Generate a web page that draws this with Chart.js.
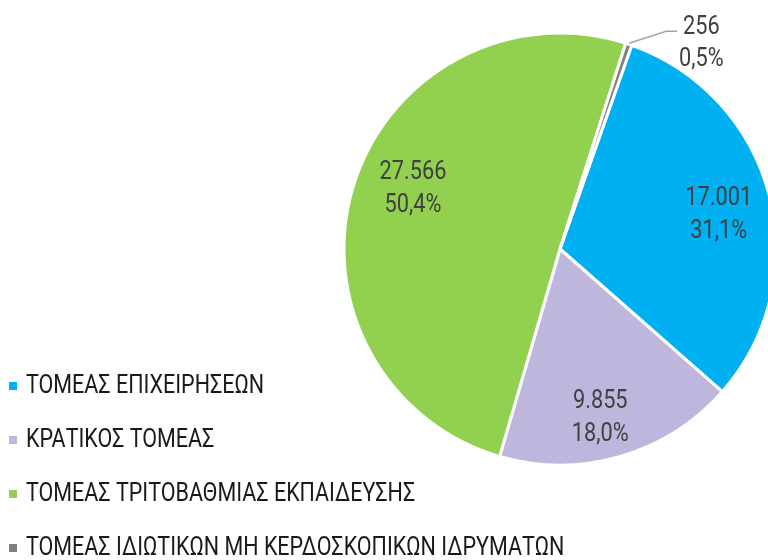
<!DOCTYPE html>
<html>
<head>
<meta charset="utf-8">
<script src="https://cdn.jsdelivr.net/npm/chart.js@4"></script>
<style>
  html, body { margin: 0; padding: 0; background: #ffffff; overflow: hidden; }
  #wrap { width: 768px; height: 560px; position: relative; }
</style>
</head>
<body>
<div id="wrap"><canvas id="c" width="768" height="560"></canvas></div>
<script>
const categories = [
  'ΤΟΜΕΑΣ ΕΠΙΧΕΙΡΗΣΕΩΝ',
  'ΚΡΑΤΙΚΟΣ ΤΟΜΕΑΣ',
  'ΤΟΜΕΑΣ ΤΡΙΤΟΒΑΘΜΙΑΣ ΕΚΠΑΙΔΕΥΣΗΣ',
  'ΤΟΜΕΑΣ ΙΔΙΩΤΙΚΩΝ ΜΗ ΚΕΡΔΟΣΚΟΠΙΚΩΝ ΙΔΡΥΜΑΤΩΝ'
];
const values = [17001, 9855, 27566, 256];
const colors = ['#00B0F0', '#BFB6DD', '#92D050', '#808080'];

const FONT = "'Roboto', 'Liberation Sans', sans-serif";
const SX_LABEL = 0.87;  // horizontal condensing of slice labels
const SX_LEGEND = 0.86; // horizontal condensing of legend text
// fine placement nudges for the inside labels (px), per slice
const LABEL_NUDGE = [[2, 7], [-5, 14], [8, -12], [0, 0]];

function fmtThousands(v) {
  return String(v).replace(/\B(?=(\d{3})+(?!\d))/g, '.');
}
function fmtPct(p) {
  return p.toFixed(1).replace('.', ',') + '%';
}
function drawText(ctx, text, x, y, align, sx) {
  ctx.save();
  ctx.translate(x, y);
  ctx.scale(sx, 1);
  ctx.textAlign = align;
  ctx.fillText(text, 0, 0);
  ctx.restore();
}

const labelPlugin = {
  id: 'labelPlugin',
  afterDatasetsDraw(chart) {
    const ctx = chart.ctx;
    const meta = chart.getDatasetMeta(0);
    const data = chart.data.datasets[0].data;
    const total = data.reduce((a, b) => a + b, 0);
    ctx.save();
    ctx.font = '25px ' + FONT;
    ctx.fillStyle = '#404040';
    ctx.textBaseline = 'middle';
    meta.data.forEach((arc, i) => {
      const p = arc.getProps(['x', 'y', 'startAngle', 'endAngle', 'outerRadius'], true);
      const mid = (p.startAngle + p.endAngle) / 2;
      const l1 = fmtThousands(data[i]);
      const l2 = fmtPct(data[i] / total * 100);
      const frac = data[i] / total;
      if (frac > 0.03) {
        const r = p.outerRadius * 0.75;
        const cx = p.x + Math.cos(mid) * r + LABEL_NUDGE[i][0];
        const cy = p.y + Math.sin(mid) * r + LABEL_NUDGE[i][1];
        drawText(ctx, l1, cx, cy - 16.5, 'center', SX_LABEL);
        drawText(ctx, l2, cx, cy + 16.5, 'center', SX_LABEL);
      } else {
        const sx = p.x + Math.cos(mid) * (p.outerRadius + 1);
        const sy = p.y + Math.sin(mid) * (p.outerRadius + 1);
        const ex = sx + 37, ey = sy - 12;
        const hx = ex + 11;
        ctx.strokeStyle = '#A6A6A6';
        ctx.lineWidth = 1.5;
        ctx.beginPath();
        ctx.moveTo(sx, sy);
        ctx.lineTo(ex, ey);
        ctx.lineTo(hx, ey);
        ctx.stroke();
        const w = Math.max(ctx.measureText(l1).width, ctx.measureText(l2).width) * SX_LABEL;
        const tx = hx + 2 + w / 2;
        const ty = ey + 12;
        drawText(ctx, l1, tx, ty - 16, 'center', SX_LABEL);
        drawText(ctx, l2, tx, ty + 16, 'center', SX_LABEL);
      }
    });
    ctx.restore();
  },
  afterDraw(chart) {
    const ctx = chart.ctx;
    const ds = chart.data.datasets[0];
    ctx.save();
    ctx.font = '25px ' + FONT;
    ctx.textBaseline = 'middle';
    chart.data.labels.forEach((lab, i) => {
      const cy = 386 + i * 54;
      ctx.fillStyle = ds.backgroundColor[i];
      ctx.fillRect(9, cy - 4, 8, 8);
      ctx.fillStyle = '#1a1a1a';
      drawText(ctx, lab, 26, cy + 1, 'left', SX_LEGEND);
    });
    ctx.restore();
  }
};

new Chart(document.getElementById('c'), {
  type: 'pie',
  data: {
    labels: categories,
    datasets: [{
      data: values,
      backgroundColor: colors,
      borderColor: '#ffffff',
      borderWidth: 3,
      clip: false
    }]
  },
  options: {
    responsive: false,
    animation: false,
    events: [],
    devicePixelRatio: 1,
    rotation: 19.4,
    radius: 216,
    layout: { padding: { left: 352, right: 0, top: 34, bottom: 96 } },
    plugins: {
      legend: { display: false },
      title: { display: false },
      tooltip: { enabled: false }
    }
  },
  plugins: [labelPlugin]
});
</script>
</body>
</html>
